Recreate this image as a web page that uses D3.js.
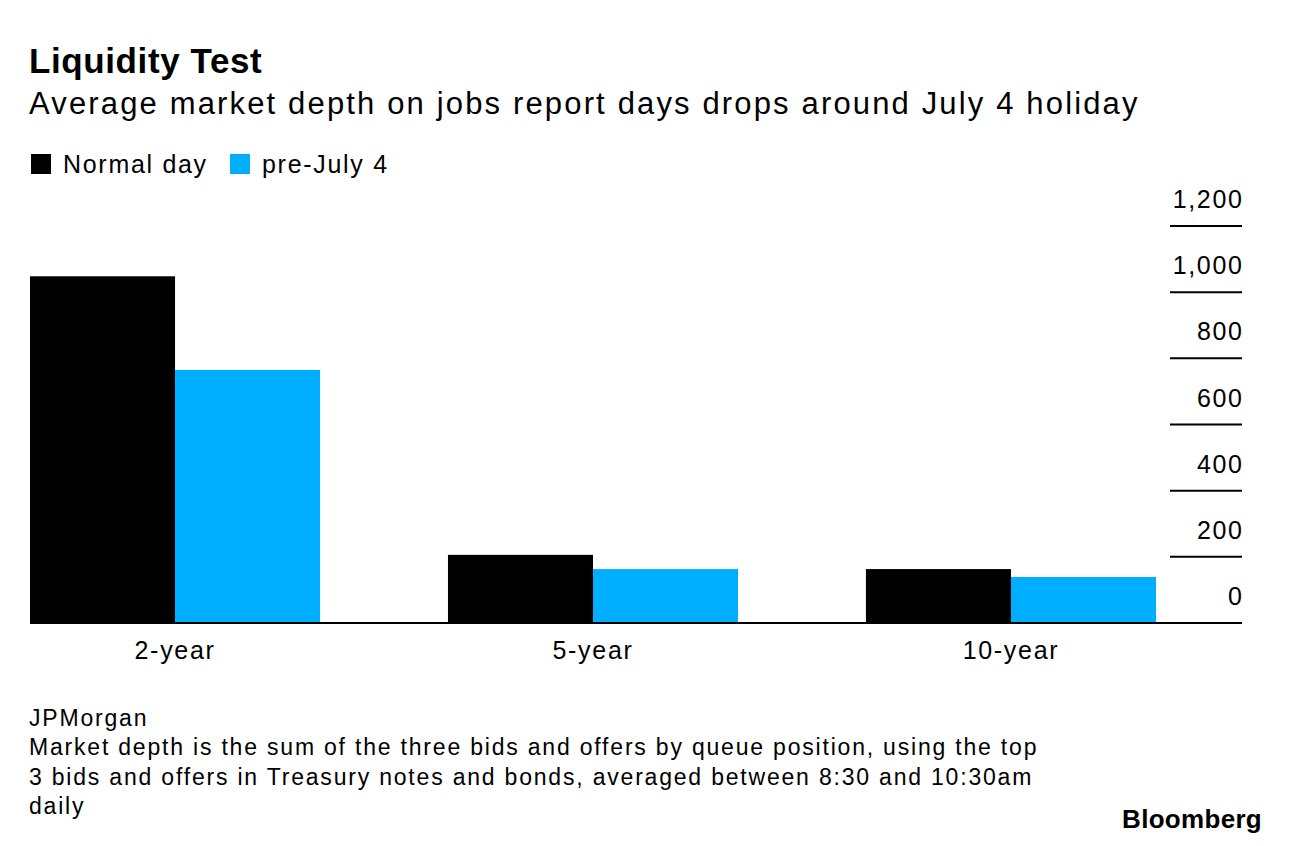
<!DOCTYPE html>
<html>
<head>
<meta charset="utf-8">
<script src="https://cdn.jsdelivr.net/npm/d3@7"></script>
<style>
  body { margin: 0; background: #fff; }
  svg { display: block; font-family: "Liberation Sans", Arial, sans-serif; }
</style>
</head>
<body>
<div id="chart"></div>
<script>
// data
const tenors = ["2-year", "5-year", "10-year"];
const seriesNames = ["Normal day", "pre-July 4"];
const normalDay = [1048, 206, 163];
const preJuly4 = [765, 163, 139];
const yTicks = [0, 200, 400, 600, 800, 1000, 1200];
const footnote = [
  "JPMorgan",
  "Market depth is the sum of the three bids and offers by queue position, using the top",
  "3 bids and offers in Treasury notes and bonds, averaged between 8:30 and 10:30am",
  "daily"
];

const width = 1289, height = 846;
const colors = ["#000000", "#00aeff"];
const tracking = 1.7;

const svg = d3.select("#chart").append("svg")
  .attr("width", width)
  .attr("height", height);

// titles
svg.append("text")
  .attr("x", 29).attr("y", 73)
  .attr("font-size", 35).attr("font-weight", "bold")
  .attr("letter-spacing", 0.6)
  .text("Liquidity Test");

svg.append("text")
  .attr("x", 29).attr("y", 114)
  .attr("font-size", 31)
  .attr("letter-spacing", 2.15)
  .text("Average market depth on jobs report days drops around July 4 holiday");

// legend
let legendX = [31, 230];
seriesNames.forEach((name, i) => {
  svg.append("rect")
    .attr("x", legendX[i]).attr("y", 154)
    .attr("width", 20).attr("height", 20)
    .attr("fill", colors[i]);
  svg.append("text")
    .attr("x", legendX[i] + 32).attr("y", 173)
    .attr("font-size", 25)
    .attr("letter-spacing", tracking)
    .text(name);
});

// scales
let x = d3.scaleBand()
  .domain(tenors)
  .range([30, 1156])
  .paddingInner(0.306)
  .paddingOuter(0);

let xSub = d3.scaleBand()
  .domain(seriesNames)
  .range([0, x.bandwidth()]);

let y = d3.scaleLinear()
  .domain([0, 1200])
  .range([623, 226]);

// y axis ticks on the right, labels above lines
let axisRight = 1242;
let yAxis = svg.append("g");
yAxis.selectAll("line")
  .data(yTicks.filter(d => d > 0))
  .enter()
  .append("line")
  .attr("x1", 1170).attr("x2", axisRight)
  .attr("y1", d => y(d)).attr("y2", d => y(d))
  .attr("stroke", "#000").attr("stroke-width", 2);

yAxis.selectAll("text")
  .data(yTicks)
  .enter()
  .append("text")
  .attr("x", axisRight + tracking)
  .attr("y", d => y(d) - 18)
  .attr("text-anchor", "end")
  .attr("font-size", 25)
  .attr("letter-spacing", tracking)
  .text(d => d3.format(",")(d));

// bars
let values = [normalDay, preJuly4];
let groups = svg.append("g").selectAll("g")
  .data(tenors)
  .enter()
  .append("g")
  .attr("transform", d => `translate(${x(d)},0)`);

groups.selectAll("rect")
  .data((d, i) => seriesNames.map((s, j) => ({ s, v: values[j][i], c: colors[j] })))
  .enter()
  .append("rect")
  .attr("x", d => xSub(d.s))
  .attr("width", xSub.bandwidth())
  .attr("y", d => y(d.v))
  .attr("height", d => y(0) - y(d.v))
  .attr("fill", d => d.c);

// baseline
svg.append("line")
  .attr("x1", 30).attr("x2", axisRight)
  .attr("y1", y(0)).attr("y2", y(0))
  .attr("stroke", "#000").attr("stroke-width", 2);

// x labels
svg.append("g")
  .attr("transform", `translate(0,${y(0)})`)
  .call(d3.axisBottom(x).tickSize(0).tickPadding(18))
  .call(g => g.select(".domain").remove())
  .selectAll("text")
  .attr("font-size", 25)
  .attr("letter-spacing", tracking)
  .attr("font-family", "Liberation Sans, Arial, sans-serif")
  .attr("fill", "#000");

// footnote
svg.append("g").selectAll("text")
  .data(footnote)
  .enter()
  .append("text")
  .attr("x", 29)
  .attr("y", (d, i) => 726 + i * 29.3)
  .attr("font-size", 23)
  .attr("letter-spacing", 1.8)
  .text(d => d);

svg.append("text")
  .attr("x", 1262).attr("y", 828)
  .attr("text-anchor", "end")
  .attr("font-size", 26)
  .attr("font-weight", "bold")
  .attr("letter-spacing", 0.3)
  .text("Bloomberg");
</script>
</body>
</html>
